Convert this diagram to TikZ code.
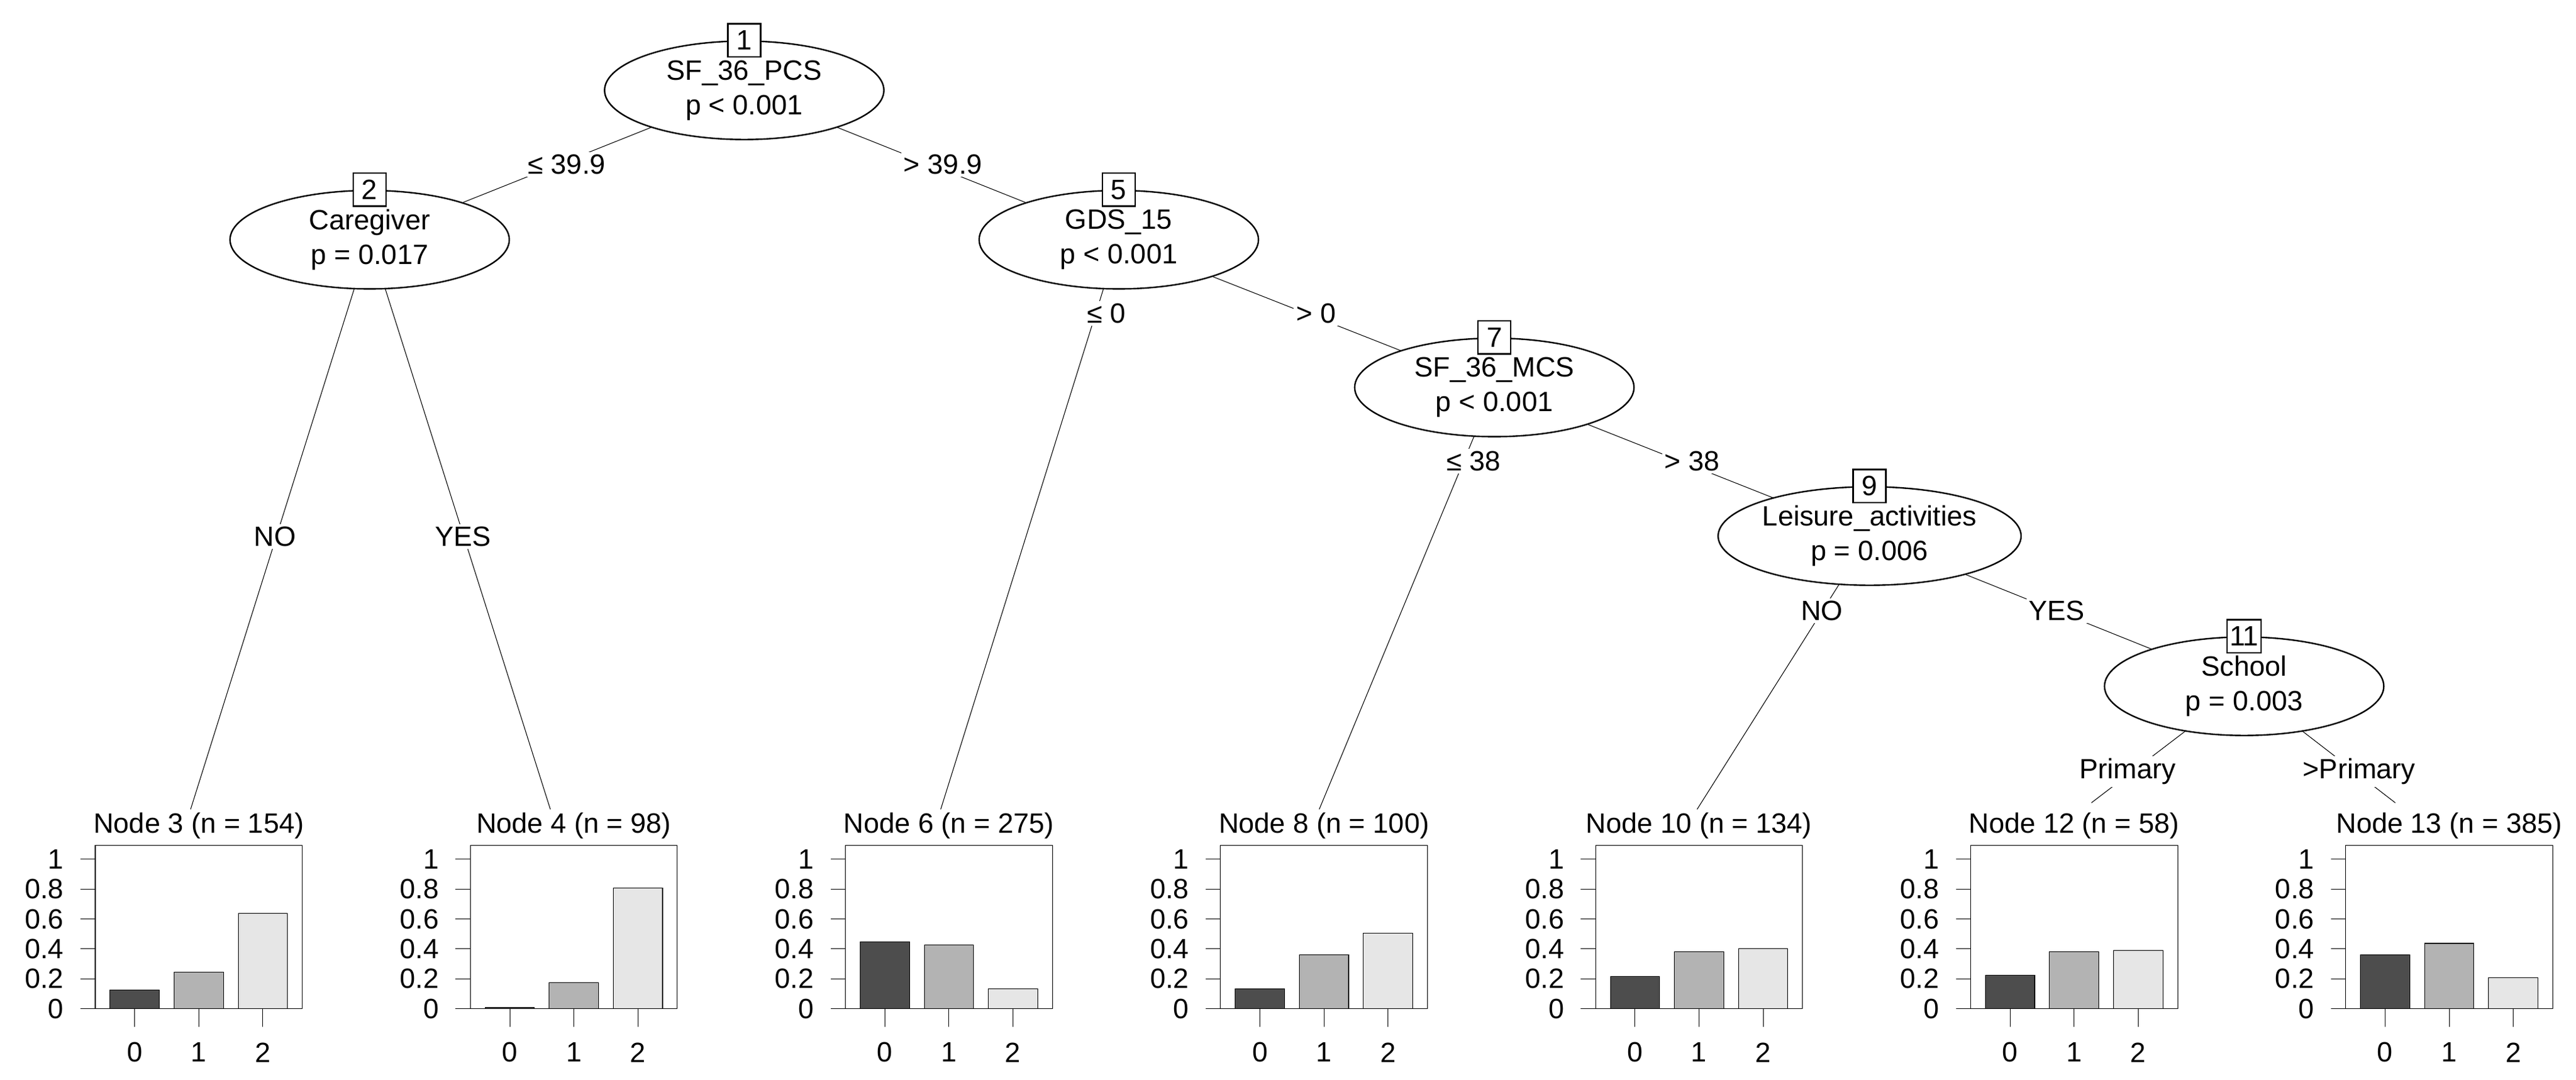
\documentclass[tikz,border=0pt]{standalone}
\usepackage{fontspec}
\setmainfont{Liberation Sans}
\usetikzlibrary{shapes.geometric}
\pgfdeclarelayer{bg}\pgfsetlayers{bg,main}
\definecolor{cA}{HTML}{4D4D4D}
\definecolor{cB}{HTML}{B3B3B3}
\definecolor{cC}{HTML}{E6E6E6}
\newcommand\leafplot[6]{%
  \begin{scope}[shift={(#2,0)}]
    \node (t#1) at (63,503) {#3};
    \draw (0,515) rectangle (126,614.4);
    \foreach \v in {0,0.2,0.4,0.6,0.8,1}
      \draw ({-9},{614.4-91*\v}) -- (0,{614.4-91*\v})
        node[tick] at ({-19},{614.4-91*\v}) {\v};
    \draw[fill=cA] (9,614.4) rectangle (39,{614.4-91*#4});
    \draw[fill=cB] (48,614.4) rectangle (78,{614.4-91*#5});
    \draw[fill=cC] (87,614.4) rectangle (117,{614.4-91*#6});
    \foreach \i/\xx in {0/24,1/63,2/102}{
      \draw (\xx,614.4) -- (\xx,625.4);
      \node at (\xx,641) {\i};}
  \end{scope}}
\begin{document}
\begin{tikzpicture}[x=1pt,y=-1pt,line width=0.9pt,
  every node/.style={font=\fontsize{17}{21}\selectfont},
  inner/.style={ellipse,draw,fill=white,minimum width=170pt,minimum height=60pt,inner sep=0pt,align=center},
  num/.style={draw,fill=white,minimum height=20pt,minimum width=20pt,inner sep=1.5pt},
  elab/.style={fill=white,inner sep=1.5pt},
  tick/.style={anchor=east,inner sep=0pt}]
\useasboundingbox (0,0) rectangle (1568,657.5);

\node[inner] (n1) at (453,55) {SF\_36\_PCS\\p < 0.001};
\node[inner] (n2) at (225,146) {Caregiver\\p = 0.017};
\node[inner] (n5) at (681,146) {GDS\_15\\p < 0.001};
\node[inner] (n7) at (909.6,236) {SF\_36\_MCS\\p < 0.001};
\node[inner] (n9) at (1138,326.5) {Leisure\_activities\\p = 0.006};
\node[inner] (n11) at (1366,418) {School\\p = 0.003};
\foreach \n/\t in {n1/1,n2/2,n5/5,n7/7,n9/9,n11/11}
  \node[num] (b\t) at (\n.north) {\t};

\coordinate (e3) at (116,493);
\coordinate (e4) at (335,493);
\coordinate (e6) at (572.6,493);
\coordinate (e8) at (803,493);
\coordinate (e10) at (1033,493);
\coordinate (e12) at (1273,489);
\coordinate (e13) at (1458,489);

\begin{pgfonlayer}{bg}
\draw (n1.center) -- (n2.center);
\draw (n1.center) -- (n5.center);
\draw (n2.center) -- (e3);
\draw (n2.center) -- (e4);
\draw (n5.center) -- (e6);
\draw (n5.center) -- (n7.center);
\draw (n7.center) -- (e8);
\draw (n7.center) -- (n9.center);
\draw (n9.center) -- (e10);
\draw (n9.center) -- (n11.center);
\draw (n11.center) -- (e12);
\draw (n11.center) -- (e13);
\end{pgfonlayer}

\node[elab] (l1) at (345,100) {≤ 39.9};
\node[elab] (l2) at (574,100) {> 39.9};
\node[elab] (l3) at (167.5,327) {NO};
\node[elab] (l4) at (282,327) {YES};
\node[elab] (l5) at (673.5,191) {≤ 0};
\node[elab] (l6) at (801,191) {> 0};
\node[elab] (l7) at (897,281) {≤ 38};
\node[elab] (l8) at (1030,281) {> 38};
\node[elab] (l9) at (1109,372) {NO};
\node[elab] (l10) at (1252,372) {YES};
\node[elab] (l11) at (1295,470) {Primary};
\node[elab] (l12) at (1436,470) {>Primary};

\leafplot{3}{58}{Node 3 (n = 154)}{0.124}{0.244}{0.636}
\leafplot{4}{286.3}{Node 4 (n = 98)}{0.01}{0.175}{0.806}
\leafplot{6}{514.6}{Node 6 (n = 275)}{0.447}{0.428}{0.133}
\leafplot{8}{742.9}{Node 8 (n = 100)}{0.133}{0.36}{0.507}
\leafplot{10}{971.2}{Node 10 (n = 134)}{0.216}{0.382}{0.40}
\leafplot{12}{1199.5}{Node 12 (n = 58)}{0.225}{0.382}{0.391}
\leafplot{13}{1427.8}{Node 13 (n = 385)}{0.36}{0.437}{0.207}
\end{tikzpicture}
\end{document}
